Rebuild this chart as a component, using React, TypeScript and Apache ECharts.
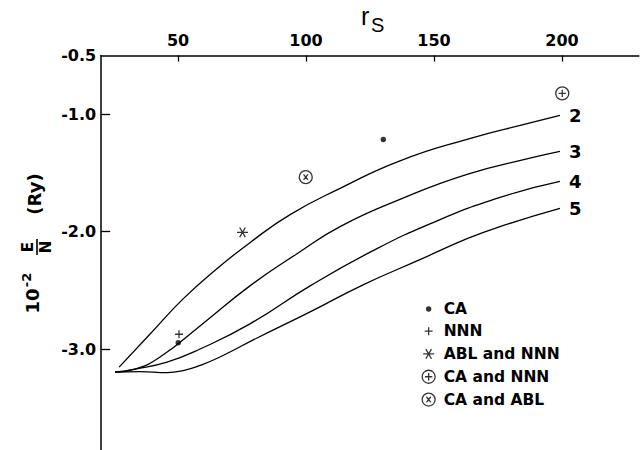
import React, { useEffect, useRef } from "react";
import * as echarts from "echarts";

// x ticks (r_s) and y ticks (10^-2 E/N, Ry)
const xTicks = [50, 100, 150, 200];
const yLabels = [-0.5, -1.0, -2.0, -3.0];
const yTickMarks = [-1.0, -2.0, -3.0];

// curves labelled by number
const curveNames = ["2", "3", "4", "5"];
const curve2 = [[27.0,-3.154],[39.1,-2.872],[52.0,-2.573],[65.2,-2.316],[78.1,-2.094],[93.8,-1.855],[113.3,-1.632],[136.7,-1.397],[162.9,-1.214],[188.7,-1.068],[199.2,-1.009]];
const curve3 = [[25.4,-3.197],[33.2,-3.171],[43.0,-3.068],[58.6,-2.803],[78.1,-2.462],[96.5,-2.188],[113.3,-1.957],[136.7,-1.726],[162.9,-1.513],[188.7,-1.368],[199.2,-1.316]];
const curve4 = [[25.4,-3.197],[33.2,-3.171],[45.7,-3.111],[58.6,-3.000],[78.1,-2.786],[101.6,-2.462],[126.2,-2.162],[149.6,-1.923],[175.8,-1.709],[199.2,-1.573]];
const curve5 = [[25.4,-3.197],[35.2,-3.192],[45.7,-3.201],[52.0,-3.184],[58.6,-3.140],[66.4,-3.068],[80.9,-2.906],[101.6,-2.684],[122.3,-2.453],[144.5,-2.239],[162.9,-2.060],[175.8,-1.957],[199.2,-1.803]];
const curves = [curve2, curve3, curve4, curve5];

// data points
const pointNames = ["CA", "NNN", "ABL and NNN", "CA and NNN", "CA and ABL"];
const caPts = [[50.1,-2.946],[130.2,-1.216]];
const nnnPts = [[50.4,-2.874]];
const ablNnnPts = [[75.2,-2.006]];
const caNnnPts = [[200.1,-0.823]];
const caAblPts = [[99.9,-1.536]];
const pointSets = [caPts, nnnPts, ablNnnPts, caNnnPts, caAblPts];

const PAD = "M0,0M20,20";
const symbols = [
  "path://" + PAD + "M12.7,10A2.7,2.7,0,1,1,7.3,10A2.7,2.7,0,1,1,12.7,10Z",
  "path://" + PAD + "M10,6V14M6,10H14",
  "path://" + PAD + "M4.5,10H15.5M7.2,5.2L12.8,14.8M12.8,5.2L7.2,14.8",
  "path://" + PAD + "M16.5,10A6.5,6.5,0,1,1,3.5,10A6.5,6.5,0,1,1,16.5,10ZM10,6.3V13.7M6.3,10H13.7",
  "path://" + PAD + "M16.5,10A6.5,6.5,0,1,1,3.5,10A6.5,6.5,0,1,1,16.5,10ZM7.8,7.2L12.2,12.8M12.2,7.2L7.8,12.8",
];

const FONT = "'DejaVu Sans', Verdana, sans-serif";
const FONT2 = "'Liberation Sans', Arial, sans-serif";

export default function App() {
  const ref = useRef<HTMLDivElement>(null);
  useEffect(() => {
    document.body.style.margin = "0";
    const chart = echarts.init(ref.current!, null, { renderer: "svg" });
    const lineSeries = curves.map((c, i) => ({
      type: "line",
      name: "curve" + curveNames[i],
      data: c,
      smooth: 0.5,
      showSymbol: false,
      symbol: "none",
      lineStyle: { color: "#000", width: 1.3 },
      endLabel: {
        show: true,
        formatter: curveNames[i],
        distance: 9,
        color: "#000",
        fontSize: 18,
        fontWeight: "bold",
        fontFamily: FONT,
      },
      silent: true,
      z: 2,
    }));
    const scatterSeries = pointSets.map((p, i) => ({
      type: "scatter",
      name: pointNames[i],
      data: p,
      symbol: symbols[i],
      symbolSize: 20,
      itemStyle:
        i === 0
          ? { color: "#000", borderWidth: 0 }
          : { color: "transparent", borderColor: "#000", borderWidth: 1.3 },
      z: 3,
    }));
    chart.setOption({
      animation: false,
      backgroundColor: "#fff",
      grid: { left: 101.2, right: 2.2, top: 55.5, bottom: 0, containLabel: false },
      xAxis: {
        type: "value",
        position: "top",
        min: 20,
        max: 230,
        axisLine: { show: true, onZero: false, lineStyle: { color: "#000", width: 1.5 } },
        axisTick: { show: true, inside: true, length: 6, customValues: xTicks, lineStyle: { color: "#000", width: 1.3 } },
        axisLabel: {
          show: true,
          customValues: xTicks,
          margin: 7,
          color: "#000",
          fontSize: 16,
          fontWeight: "bold",
          fontFamily: FONT,
        },
        splitLine: { show: false },
      },
      yAxis: {
        type: "value",
        min: -3.86,
        max: -0.5,
        axisLine: { show: true, onZero: false, lineStyle: { color: "#000", width: 1.5 } },
        axisTick: { show: true, inside: true, length: 9, customValues: yTickMarks, lineStyle: { color: "#000", width: 1.3 } },
        axisLabel: {
          show: true,
          customValues: yLabels,
          margin: 5,
          color: "#000",
          fontSize: 16,
          fontWeight: "bold",
          fontFamily: FONT,
          formatter: (v: number) => v.toFixed(1),
        },
        splitLine: { show: false },
      },
      legend: {
        data: pointNames,
        orient: "vertical",
        left: 413,
        top: 294,
        itemWidth: 20,
        itemHeight: 20,
        itemGap: 1.5,
        selectedMode: false,
        itemStyle: { borderWidth: 1.3 },
        textStyle: { color: "#000", fontSize: 15.5, fontWeight: "bold", fontFamily: FONT },
      },
      graphic: [
        { type: "text", left: 361, top: 3, style: { text: "r", fontSize: 25, fontFamily: FONT2, fill: "#000" } },
        { type: "text", left: 371, top: 15, style: { text: "S", fontSize: 20, fontFamily: FONT2, fill: "#000" } },
        { type: "text", x: 32, y: 301, rotation: Math.PI / 2, style: { text: "10", fontSize: 18, fontWeight: "bold", fontFamily: FONT, fill: "#000", align: "center", verticalAlign: "middle" } },
        { type: "text", x: 26, y: 280, rotation: Math.PI / 2, style: { text: "-2", fontSize: 13, fontWeight: "bold", fontFamily: FONT, fill: "#000", align: "center", verticalAlign: "middle" } },
        { type: "text", x: 28, y: 247, rotation: Math.PI / 2, style: { text: "E", fontSize: 15, fontWeight: "bold", fontFamily: FONT, fill: "#000", align: "center", verticalAlign: "middle" } },
        { type: "line", shape: { x1: 37, y1: 239, x2: 37, y2: 255 }, style: { stroke: "#000", lineWidth: 1.6 } },
        { type: "text", x: 46, y: 247, rotation: Math.PI / 2, style: { text: "N", fontSize: 15, fontWeight: "bold", fontFamily: FONT, fill: "#000", align: "center", verticalAlign: "middle" } },
        { type: "text", x: 34, y: 194, rotation: Math.PI / 2, style: { text: "(Ry)", fontSize: 18, fontWeight: "bold", fontFamily: FONT, fill: "#000", align: "center", verticalAlign: "middle" } },
      ],
      series: [...lineSeries, ...scatterSeries],
    });
    return () => chart.dispose();
  }, []);
  return <div ref={ref} style={{ width: 641, height: 450 }} />;
}
